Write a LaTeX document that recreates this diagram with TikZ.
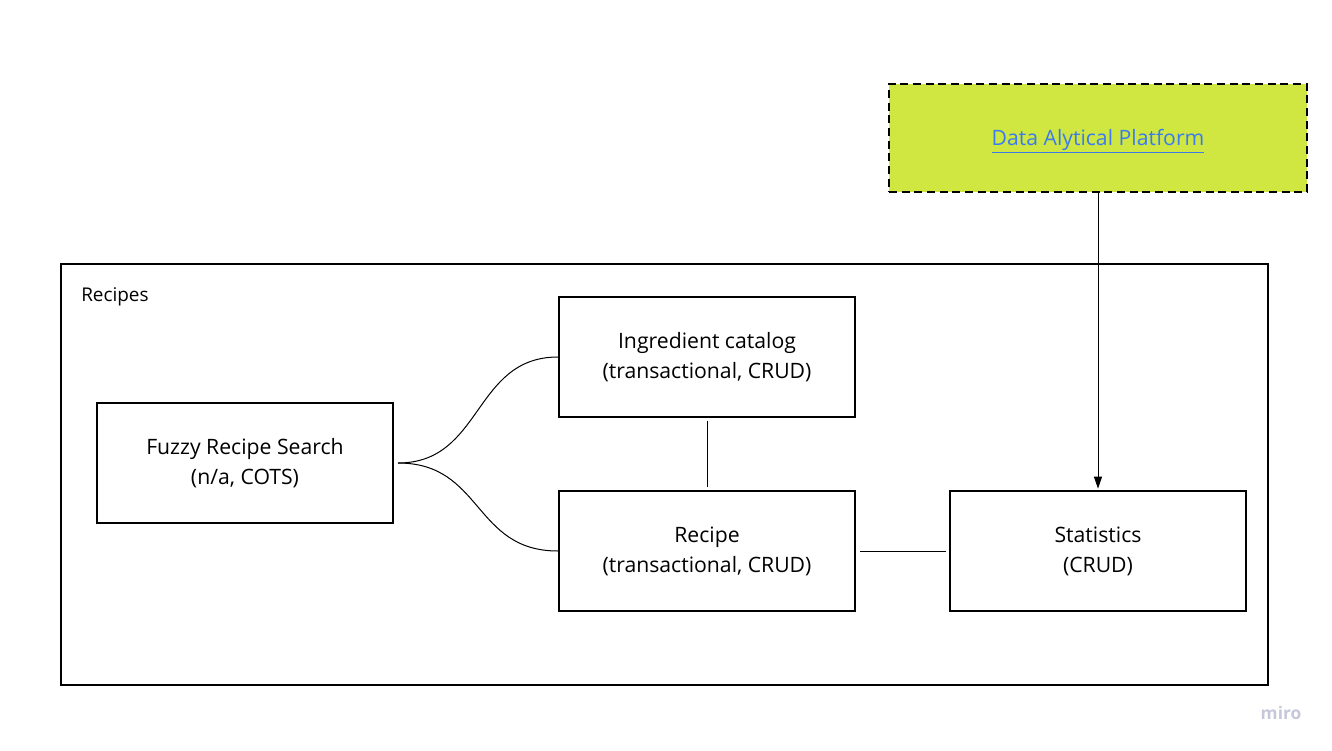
\documentclass[tikz,border=0pt]{standalone}
\usepackage{fontspec}
\setmainfont{Open Sans}
\usetikzlibrary{arrows.meta}
\definecolor{lime}{HTML}{CFE740}
\definecolor{linkblue}{HTML}{3B7BEF}
\definecolor{wm}{HTML}{C6C7D8}
\begin{document}
\begin{tikzpicture}[x=0.75pt,y=-0.75pt,
  box/.style={draw=black,line width=1.5pt,minimum width=222pt,minimum height=90pt,align=center,inner sep=0pt,font=\fontsize{15.9}{22.5}\selectfont},
  conn/.style={draw=black,line width=0.75pt}]
\useasboundingbox (0,0) rectangle (1332,750);
\node[draw=black,line width=1.5pt,minimum width=905pt,minimum height=315.75pt,inner sep=0pt] (outer) at (664.5,474.5) {};
\node[anchor=west,font=\fontsize{14.2}{16}\selectfont,inner sep=0pt] (lbl) at (81,297) {Recipes};
\node[box,dashed,dash pattern=on 6pt off 3.5pt,fill=lime,minimum width=313.5pt,minimum height=81pt] (dap) at (1098,138) {};
\node[anchor=base,inner sep=0pt,font=\fontsize{15.9}{22.5}\selectfont,text=linkblue] (daptext) at (1098,145) {\underline{Data Alytical Platform}};
\node[box] (ing) at (707,357) {Ingredient catalog\\(transactional, CRUD)};
\node[box] (fuzzy) at (245,463) {Fuzzy Recipe Search\\(n/a, COTS)};
\node[box] (rec) at (707,551) {Recipe\\(transactional, CRUD)};
\node[box] (stat) at (1098,551) {Statistics\\(CRUD)};
\draw[conn] ([xshift=3pt]fuzzy.east) .. controls +(85,0) and +(-85,0) .. (ing.west);
\draw[conn] ([xshift=3pt]fuzzy.east) .. controls +(85,0) and +(-85,0) .. (rec.west);
\draw[conn] ([yshift=-2pt]ing.south) -- ([yshift=2pt]rec.north);
\draw[conn] ([xshift=3pt]rec.east) -- ([xshift=-2pt]stat.west);
\draw[conn,-{Triangle[length=9pt,width=6pt]}] (dap.south) -- ([yshift=1pt]stat.north);
\node[font=\fontsize{13}{14}\selectfont\bfseries,text=wm,inner sep=0pt] (miro) at (1281,713) {miro};
\end{tikzpicture}
\end{document}
